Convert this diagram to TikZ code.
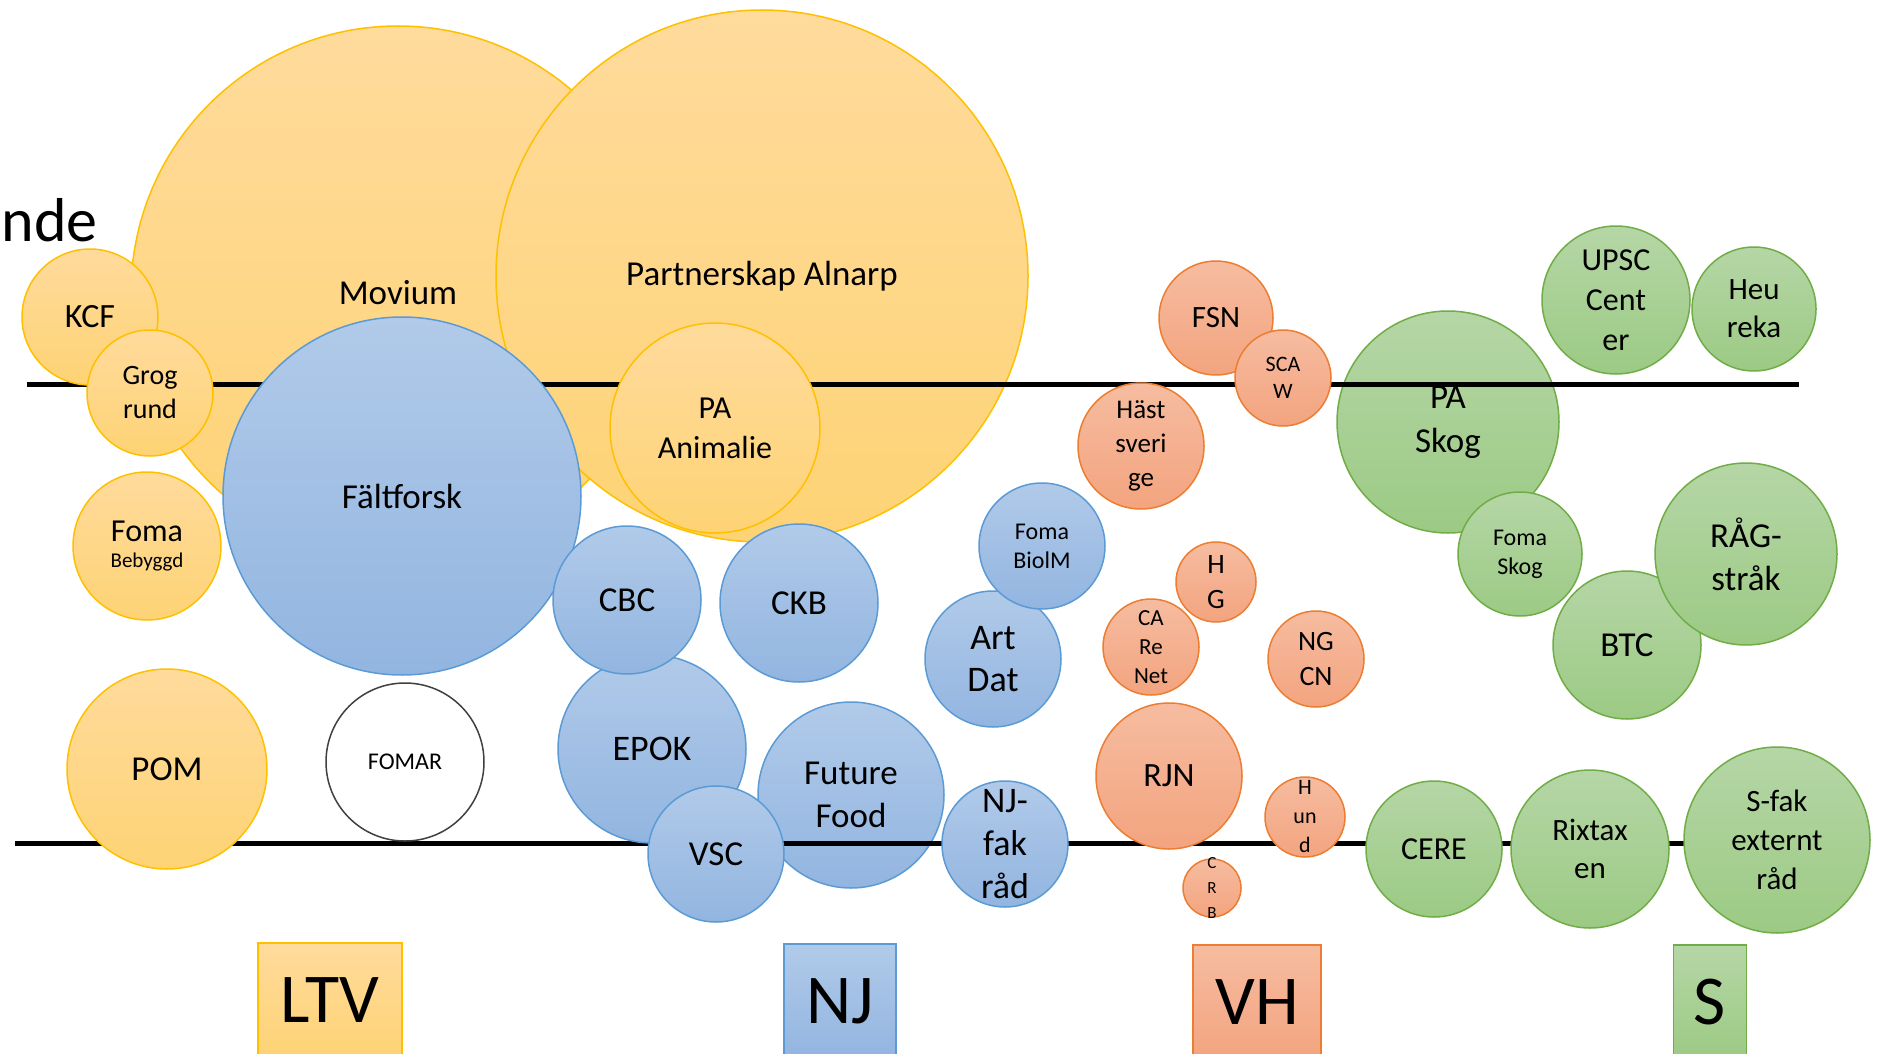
\documentclass[tikz,border=0pt]{standalone}
\usepackage{fontspec}
\setmainfont{Carlito}
\newcommand{\fsz}[2]{\fontsize{#1}{#2}\selectfont}
\definecolor{ltvline}{HTML}{FFC000}
\definecolor{ltvtop}{HTML}{FFDB9C}
\definecolor{ltvbot}{HTML}{FED375}
\definecolor{njline}{HTML}{5B9BD5}
\definecolor{njtop}{HTML}{B1CAE9}
\definecolor{njbot}{HTML}{92B5E0}
\definecolor{vhline}{HTML}{ED7D31}
\definecolor{vhtop}{HTML}{F6BCA0}
\definecolor{vhbot}{HTML}{F3A47F}
\definecolor{sline}{HTML}{70AD47}
\definecolor{stop}{HTML}{B5D6A6}
\definecolor{sbot}{HTML}{9CCA84}
\begin{document}
\begin{tikzpicture}[x=1pt,y=-1pt,
                bubble/.style={circle,inner sep=-30pt,minimum size=#1,align=center,line width=1.5pt,font=\fsz{35}{42}},
                ltvball/.style={bubble=#1,draw=ltvline,top color=ltvtop,bottom color=ltvbot},
                njball/.style={bubble=#1,draw=njline,top color=njtop,bottom color=njbot},
                vhball/.style={bubble=#1,draw=vhline,top color=vhtop,bottom color=vhbot},
                sball/.style={bubble=#1,draw=sline,top color=stop,bottom color=sbot},
                facbox/.style={rectangle,inner sep=0pt,minimum height=114,line width=1.5pt,font=\fsz{70}{84}},
                divider/.style={line width=5pt}]
                \useasboundingbox (0,0) rectangle (1880,1054);
                \node[anchor=base east,inner sep=0pt,font=\fsz{62}{70}] (nde) at (98,241) {nde};
                \node[ltvball=534] (movium) at (398,293) {Movium};
                \node[ltvball=532] (partner) at (762,276) {Partnerskap Alnarp};
                \node[njball=186,font=\fsz{35}{43}] (food) at (851,795) {Future\\Food};
                \node[sball=222,font=\fsz{35}{44}] (paskog) at (1448,422) {PA\\Skog};
                \coordinate (top_w) at (27,384);
                \coordinate (top_e) at (1799,384);
                \coordinate (bot_w) at (15,843);
                \coordinate (bot_e) at (1720,843);
                \draw[divider] (top_w) -- (top_e);
                \draw[divider] (bot_w) -- (bot_e);
                \node[ltvball=136,font=\fsz{34}{40}] (kcf) at (90,317) {KCF};
                \node[ltvball=126,font=\fsz{28}{34}] (grog) at (150,393) {Grog\\rund};
                \node[ltvball=148,font=\fsz{21}{26}] (bebyggd) at (147,546) {{\fsz{32}{38}Foma}\\Bebyggd};
                \node[ltvball=200] (pom) at (167,769) {POM};
                \node[bubble=158,draw=black!75,fill=white,font=\fsz{24}{29}] (fomar) at (405,762) {FOMAR};
                \node[njball=358] (falt) at (402,496) {Fältforsk};
                \node[ltvball=210,font=\fsz{32}{40}] (animalie) at (715,428) {PA\\Animalie};
                \node[njball=188,font=\fsz{36}{42}] (epok) at (652,749) {EPOK};
                \node[njball=148] (cbc) at (627,600) {CBC};
                \node[njball=158] (ckb) at (799,603) {CKB};
                \node[njball=136] (vsc) at (716,854) {VSC};
                \node[njball=126,font=\fsz{36}{43}] (njfak) at (1005,844) {NJ-\\fak\\råd};
                \node[njball=136,font=\fsz{36}{42}] (artdat) at (993,659) {Art\\Dat};
                \node[njball=126,font=\fsz{24}{29}] (biolm) at (1042,546) {Foma\\BiolM};
                \node[vhball=114,font=\fsz{31}{38}] (fsn) at (1216,318) {FSN};
                \node[vhball=96,font=\fsz{22}{27}] (scaw) at (1283,378) {SCA\\W};
                \node[vhball=126,font=\fsz{27}{34}] (hast) at (1141,446) {Häst\\sveri\\ge};
                \node[vhball=80,font=\fsz{28}{35}] (hg) at (1216,582) {H\\G};
                \node[vhball=96,font=\fsz{23}{29}] (carenet) at (1151,647) {CA\\Re\\Net};
                \node[vhball=96,font=\fsz{28}{35}] (ngcn) at (1316,659) {NG\\CN};
                \node[vhball=146,font=\fsz{34}{40}] (rjn) at (1169,776) {RJN};
                \node[vhball=80,font=\fsz{22}{29}] (hund) at (1305,817) {H\\un\\d};
                \node[vhball=58,font=\fsz{17}{25}] (crb) at (1212,888) {C\\R\\B};
                \node[sball=148,font=\fsz{32}{40}] (upsc) at (1616,300) {UPSC\\Cent\\er};
                \node[sball=124,font=\fsz{31}{38}] (heureka) at (1754,309) {Heu\\reka};
                \node[sball=124,font=\fsz{24}{29}] (fomaskog) at (1520,554) {Foma\\Skog};
                \node[sball=148] (btc) at (1627,645) {BTC};
                \node[sball=182,font=\fsz{35}{43}] (rag) at (1746,554) {RÅG-\\stråk};
                \node[sball=136,font=\fsz{32}{38}] (cere) at (1434,849) {CERE};
                \node[sball=158,font=\fsz{31}{38}] (rixtax) at (1590,849) {Rixtax\\en};
                \node[sball=186,font=\fsz{31}{39}] (sfak) at (1777,840) {S-fak\\externt\\råd};
                \node[facbox,minimum width=144,draw=ltvline,top color=ltvtop,bottom color=ltvbot] (ltv) at (330,1000) {LTV};
                \node[facbox,minimum width=112,draw=njline,top color=njtop,bottom color=njbot] (nj) at (840,1001) {NJ};
                \node[facbox,minimum width=128,draw=vhline,top color=vhtop,bottom color=vhbot] (vh) at (1257,1002) {VH};
                \node[facbox,minimum width=73,draw=sline,top color=stop,bottom color=sbot] (s) at (1710,1002) {S};
\end{tikzpicture}
\end{document}
